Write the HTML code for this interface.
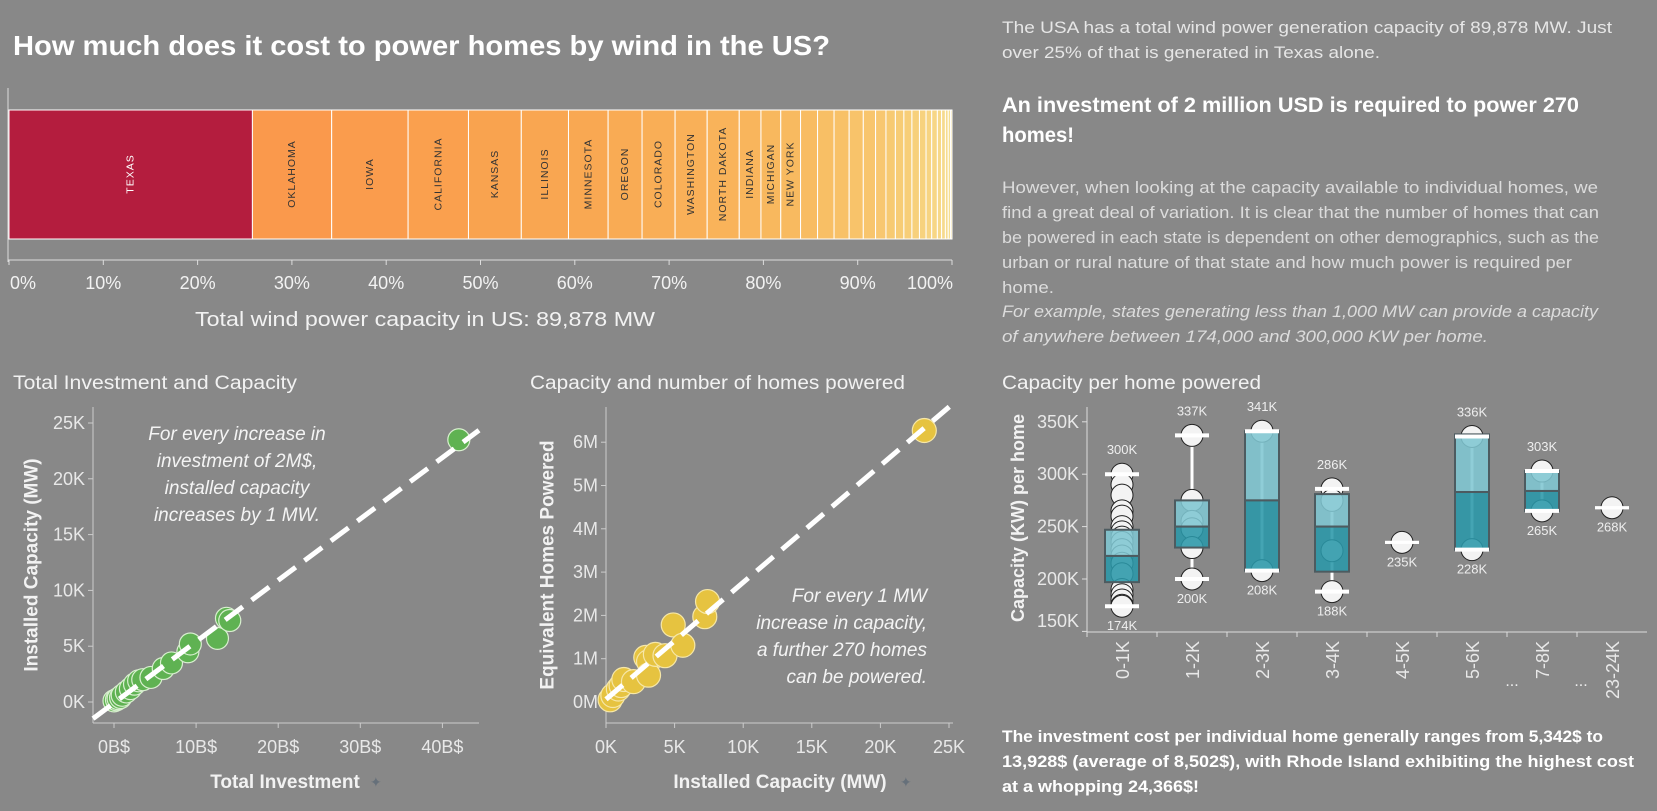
<!DOCTYPE html>
<html><head><meta charset="utf-8">
<style>
html,body{margin:0;padding:0;background:#888;}
svg{display:block;font-family:"Liberation Sans",sans-serif;}
</style></head>
<body>
<svg id="root" width="1657" height="811" viewBox="0 0 1657 811" xmlns="http://www.w3.org/2000/svg">
<rect x="0" y="0" width="1657" height="811" fill="#888"/>
<text x="13" y="55" fill="#fff" font-size="28" font-weight="bold" textLength="817" lengthAdjust="spacingAndGlyphs">How much does it cost to power homes by wind in the US?</text>

<g id="bar"></g>
<text x="425" y="326" fill="#f2f2f2" font-size="20" text-anchor="middle" textLength="460" lengthAdjust="spacingAndGlyphs">Total wind power capacity in US: 89,878 MW</text>

<g fill="#e6e6e6" font-size="17">
<text x="1002" y="33" textLength="610" lengthAdjust="spacingAndGlyphs">The USA has a total wind power generation capacity of 89,878 MW.  Just</text>
<text x="1002" y="58" textLength="378" lengthAdjust="spacingAndGlyphs">over 25% of that is generated in Texas alone.</text>
</g>
<g fill="#fff" font-size="21" font-weight="bold">
<text x="1002" y="112" textLength="577" lengthAdjust="spacingAndGlyphs">An investment of 2 million USD is required to power 270</text>
<text x="1002" y="142" textLength="72" lengthAdjust="spacingAndGlyphs">homes!</text>
</g>
<g fill="#dcdcdc" font-size="17">
<text x="1002" y="193" textLength="596" lengthAdjust="spacingAndGlyphs">However, when looking at the capacity available to individual homes, we</text>
<text x="1002" y="218" textLength="597" lengthAdjust="spacingAndGlyphs">find a great deal of variation. It is clear that the number of homes that can</text>
<text x="1002" y="243" textLength="597" lengthAdjust="spacingAndGlyphs">be powered in each state is dependent on other demographics, such as the</text>
<text x="1002" y="268" textLength="570" lengthAdjust="spacingAndGlyphs">urban or rural nature of that state and how much power is required per</text>
<text x="1002" y="293" textLength="52" lengthAdjust="spacingAndGlyphs">home.</text>
<text x="1002" y="317" font-style="italic" textLength="596" lengthAdjust="spacingAndGlyphs">For example, states generating less than 1,000 MW can provide a capacity</text>
<text x="1002" y="342" font-style="italic" textLength="486" lengthAdjust="spacingAndGlyphs">of anywhere between 174,000 and 300,000 KW per home.</text>
</g>

<text x="13" y="389" fill="#f2f2f2" font-size="19" textLength="284" lengthAdjust="spacingAndGlyphs">Total Investment and Capacity</text>
<text x="530" y="389" fill="#f2f2f2" font-size="19" textLength="375" lengthAdjust="spacingAndGlyphs">Capacity and number of homes powered</text>
<text x="1002" y="389" fill="#f2f2f2" font-size="19" textLength="259" lengthAdjust="spacingAndGlyphs">Capacity per home powered</text>

<g id="sc1"></g>
<g id="sc2"></g>
<g id="box"></g>

<g fill="#fff" font-size="17" font-weight="bold">
<text x="1002" y="742" textLength="601" lengthAdjust="spacingAndGlyphs">The investment cost per individual home generally ranges from 5,342$ to</text>
<text x="1002" y="767" textLength="632" lengthAdjust="spacingAndGlyphs">13,928$ (average of 8,502$), with Rhode Island exhibiting the highest cost</text>
<text x="1002" y="792" textLength="197" lengthAdjust="spacingAndGlyphs">at a whopping 24,366$!</text>
</g>
</svg>
<script>
// ---------- bar chart data ----------
const barStates = ["TEXAS","OKLAHOMA","IOWA","CALIFORNIA","KANSAS","ILLINOIS","MINNESOTA","OREGON","COLORADO","WASHINGTON","NORTH DAKOTA","INDIANA","MICHIGAN","NEW YORK","","","","","","","","","","","","","","","","","",""];
const barShares = [25.8,8.4,8.1,6.4,5.6,5.0,4.2,3.6,3.5,3.4,3.4,2.3,2.1,2.1,1.8,1.75,1.6,1.5,1.3,1.1,1.0,0.9,0.85,0.8,0.7,0.6,0.6,0.45,0.4,0.3,0.25,0.15];
const barTicks = [0,10,20,30,40,50,60,70,80,90,100];

// ---------- scatter 1 data (B$, K MW) ----------
const invest = [0,0.3,0.5,0.8,1,1.5,2,2.5,3,3.5,4.5,6,7,9,9.3,12.6,13.7,14.1,42];
const capacity1 = [0.1,0.2,0.3,0.4,0.6,0.9,1.2,1.6,1.9,2.0,2.2,3.0,3.5,4.5,5.2,5.7,7.5,7.3,23.5];
const sc1XTicks = [0,10,20,30,40];
const sc1YTicks = [0,5,10,15,20,25];

// ---------- scatter 2 data (K MW, M homes) ----------
const capacity2 = [0.3,0.5,0.9,1.1,1.3,2.0,2.9,3.1,3.1,3.6,4.3,4.9,5.6,7.2,7.4,23.2];
const homes = [0.05,0.15,0.3,0.38,0.52,0.47,1.03,0.93,0.62,1.1,1.07,1.78,1.31,1.97,2.32,6.27];
const sc2XTicks = [0,5,10,15,20,25];
const sc2YTicks = [0,1,2,3,4,5,6];

// ---------- box plot data (K KW per home) ----------
const boxCats = ["0-1K","1-2K","2-3K","3-4K","4-5K","5-6K","7-8K","23-24K"];
const boxMin = [174,200,208,188,235,228,265,268];
const boxQ1 = [197,230,208,207,235,228,265,268];
const boxMed = [222,250,275,250,235,283,284,268];
const boxQ3 = [247,275,341,281,235,338,303,268];
const boxMax = [300,337,341,286,235,336,303,268];
const boxPoints = [
 [300,290,280,265,260,250,245,240,235,228,222,215,205,190,185,180,175,174],
 [337,275,255,248,230,200],
 [341,208],
 [286,275,227,188],
 [235],
 [336,228],
 [303,265],
 [268]];
const boxYTicks = [150,200,250,300,350];

const NS="http://www.w3.org/2000/svg";
function mk(parent,tag,attrs,text){const e=document.createElementNS(NS,tag);for(const k in attrs)e.setAttribute(k,attrs[k]);if(text!==undefined)e.textContent=text;parent.appendChild(e);return e;}

// ===== bar chart =====
(function(){
 const g=document.getElementById('bar');
 const x0=9,x1=952,top=110,bot=239;
 const total=barShares.reduce((a,b)=>a+b,0);
 const xs=p=>x0+(p/100)*(x1-x0);
 const ax=mk(g,'line',{x1:8,y1:88,x2:8,y2:262,stroke:'#ddd','stroke-width':1});
 
 
 const bx=mk(g,'line',{x1:8,y1:260,x2:952,y2:260,stroke:'#ddd','stroke-width':1});
 
 
 let cum=0;
 barShares.forEach((v,i)=>{
  const a=xs(cum/total*100),b=xs((cum+v)/total*100);cum+=v;
  const t=i/(barShares.length-1);
  let fill;
  if(i===0)fill='#b41d3e';else{
   const r=Math.round(250+ (246-250)*t), gg=Math.round(148+(224-148)*Math.pow(t,0.8)), bb=Math.round(76+(150-76)*Math.pow(t,1.5));fill=`rgb(${r},${gg},${bb})`;}
  const r=mk(g,'rect',{x:a,y:top,width:Math.max(b-a,0.5),height:bot-top,fill:fill,stroke:'#fff','stroke-width':1});
  
  
  if(barStates[i]){
   const cx=(a+b)/2;
   const tx=mk(g,'text',{x:cx,y:174,transform:`rotate(-90 ${cx} 174)`,'text-anchor':'middle','dominant-baseline':'central','font-size':10.5,'letter-spacing':1,fill:i===0?'#fff':'#333'},barStates[i]);
   
   
  }
 });
 barTicks.forEach(t=>{
  const x=xs(t);
  const tk=mk(g,'line',{x1:x,y1:260,x2:x,y2:265,stroke:'#ddd'});
  
  
  let ta='middle',xx=x; if(t===0){ta='start';xx=10;} if(t===100){ta='end';xx=953;}
  const l=mk(g,'text',{x:xx,y:289,'text-anchor':ta,'font-size':18,fill:'#f2f2f2'},t+'%');
  
  
 });
})();

function scatter(id,xs,ys,cfg){
 const g=document.getElementById(id);
 const X=v=>cfg.x0+v*cfg.xk, Y=v=>cfg.y0-v*cfg.yk;
 const a1=mk(g,'line',{x1:cfg.L,y1:cfg.T,x2:cfg.L,y2:cfg.B,stroke:'#ccc'});
 
 
 const a2=mk(g,'line',{x1:cfg.L,y1:cfg.B,x2:cfg.R,y2:cfg.B,stroke:'#ccc'});
 
 
 cfg.yt.forEach(t=>{
  const y=Y(t);
  const tk=mk(g,'line',{x1:cfg.L-5,y1:y,x2:cfg.L,y2:y,stroke:'#ccc'});
  
  
  const l=mk(g,'text',{x:cfg.L-8,y:y+6,'text-anchor':'end','font-size':18,fill:'#e8e8e8'},t+cfg.yu);
  
  
 });
 cfg.xt.forEach(t=>{
  const x=X(t);
  const tk=mk(g,'line',{x1:x,y1:cfg.B,x2:x,y2:cfg.B+5,stroke:'#ccc'});
  
  
  const l=mk(g,'text',{x:x,y:753,'text-anchor':'middle','font-size':18,fill:'#e8e8e8'},t+cfg.xu);
  
  
 });
 const n=xs.length,mx=xs.reduce((a,b)=>a+b)/n,my=ys.reduce((a,b)=>a+b)/n;
 let sxy=0,sxx=0;xs.forEach((x,i)=>{sxy+=(x-mx)*(ys[i]-my);sxx+=(x-mx)*(x-mx);});
 const m=sxy/sxx,c=my-m*mx;
 const vL=(cfg.L-cfg.x0)/cfg.xk,vR=(cfg.R-cfg.x0)/cfg.xk;
 xs.forEach((x,i)=>{
  const p=mk(g,'circle',{cx:X(x),cy:Y(ys[i]),r:cfg.r,fill:cfg.fill,stroke:cfg.stroke,'stroke-width':1.2});
  
  
 });
 const tl=mk(g,'line',{x1:cfg.L,y1:Y(m*vL+c),x2:cfg.R,y2:Y(m*vR+c),stroke:'#fff','stroke-width':5,'stroke-dasharray':'22 11'});
 
 
 const xt=mk(g,'text',{x:cfg.xtx,y:788,'text-anchor':'middle','font-size':19,fill:'#f2f2f2','font-weight':600},cfg.xTitle);
 
 
 const pin=mk(g,'text',{x:cfg.pinx,y:787,'font-size':14,fill:'#66707a'},'✦');
 
 
 const yt=mk(g,'text',{x:cfg.ytx,y:565,transform:`rotate(-90 ${cfg.ytx} 565)`,'text-anchor':'middle','dominant-baseline':'central','font-size':19,fill:'#f2f2f2','font-weight':600},cfg.yTitle);
 
 
 cfg.note.forEach((s,i)=>{
  const t=mk(g,'text',{x:cfg.nx,y:cfg.ny+i*27,'text-anchor':cfg.na,'font-size':19,'font-style':'italic',fill:'#f4f4f4'},s);
  
  
 });
}
scatter('sc1',invest,capacity1,{x0:114,xk:8.21,y0:702,yk:11.16,L:93,R:479,T:407,B:723,xt:sc1XTicks,yt:sc1YTicks,xu:'B$',yu:'K',r:11,fill:'#5fb252',stroke:'#d8efcf',xTitle:'Total Investment',xtx:285,pinx:370,yTitle:'Installed Capacity (MW)',ytx:32,note:['For every increase in','investment of 2M$,','installed capacity','increases by 1 MW.'],nx:237,ny:440,na:'middle'});
scatter('sc2',capacity2,homes,{x0:606,xk:13.72,y0:702,yk:43.3,L:606,R:953,T:407,B:723,xt:sc2XTicks,yt:sc2YTicks,xu:'K',yu:'M',r:12,fill:'#e6c340',stroke:'#f6e7a8',xTitle:'Installed Capacity (MW)',xtx:780,pinx:900,yTitle:'Equivalent Homes Powered',ytx:548,note:['For every 1 MW','increase in capacity,','a further 270 homes','can be powered.'],nx:927,ny:602,na:'end'});

// ===== box plot =====
(function(){
 const g=document.getElementById('box');
 const L=1087,B=632,R=1647,cw=70;
 const Y=v=>579-(v-200)*1.048;
 const CX=i=>L+cw*i+cw/2;
 const a1=mk(g,'line',{x1:L,y1:407,x2:L,y2:B,stroke:'#ddd'});
 
 
 const a2=mk(g,'line',{x1:L,y1:B,x2:R,y2:B,stroke:'#ddd'});
 
 
 boxYTicks.forEach(t=>{
  const y=Y(t);
  const tk=mk(g,'line',{x1:L-5,y1:y,x2:L,y2:y,stroke:'#ddd'});
  
  
  const l=mk(g,'text',{x:L-8,y:Math.min(y+6,627),'text-anchor':'end','font-size':18,fill:'#e8e8e8'},t+'K');
  
  
 });
 const yt=mk(g,'text',{x:1018,y:518,transform:'rotate(-90 1018 518)','text-anchor':'middle','dominant-baseline':'central','font-size':18,fill:'#f2f2f2','font-weight':600},'Capacity (KW) per home');
 
 
 boxCats.forEach((c,i)=>{
  const cx=CX(i);
  const tk=mk(g,'line',{x1:L+cw*i,y1:B,x2:L+cw*i,y2:B+5,stroke:'#ddd'});
  
  
  const l=mk(g,'text',{x:cx+7,y:641,transform:`rotate(-90 ${cx+7} 641)`,'text-anchor':'end','font-size':18,fill:'#e8e8e8'},c);
  
  
  const w=mk(g,'line',{x1:cx,y1:Y(boxMin[i]),x2:cx,y2:Y(boxMax[i]),stroke:'#fff','stroke-width':3});
  
  
  boxPoints[i].forEach(v=>{
   const p=mk(g,'circle',{cx:cx,cy:Y(v),r:11,fill:'#f3f3f3',stroke:'#222','stroke-width':1});
   
   
  });
  if(boxQ3[i]>boxQ1[i]){
   const u=mk(g,'rect',{x:cx-17,y:Y(boxQ3[i]),width:34,height:Y(boxMed[i])-Y(boxQ3[i]),fill:'#80c6d2','fill-opacity':0.88,stroke:'#4d5b60','stroke-width':2});
   
   
   const lo=mk(g,'rect',{x:cx-17,y:Y(boxMed[i]),width:34,height:Y(boxQ1[i])-Y(boxMed[i]),fill:'#2a97a8','fill-opacity':0.88,stroke:'#4d5b60','stroke-width':2});
   
   
  }
  [boxMin[i],boxMax[i]].forEach(v=>{
   const cp=mk(g,'line',{x1:cx-17,y1:Y(v),x2:cx+17,y2:Y(v),stroke:'#fff','stroke-width':boxMin[i]===boxMax[i]?3:4});
   
   
  });
  const lb=mk(g,'text',{x:cx,y:Y(boxMin[i])+24,'text-anchor':'middle','font-size':13,fill:'#eee'},boxMin[i]+'K');
  
  
  if(boxMax[i]!==boxMin[i]){
   const la=mk(g,'text',{x:cx,y:Y(boxMax[i])-20,'text-anchor':'middle','font-size':13,fill:'#eee'},boxMax[i]+'K');
   
   
  }
 });
 [1512,1581].forEach(x=>{
  const d=mk(g,'text',{x:x,y:686,'text-anchor':'middle','font-size':16,fill:'#eee'},'...');
  
  
 });
})();
</script>
</body></html>
